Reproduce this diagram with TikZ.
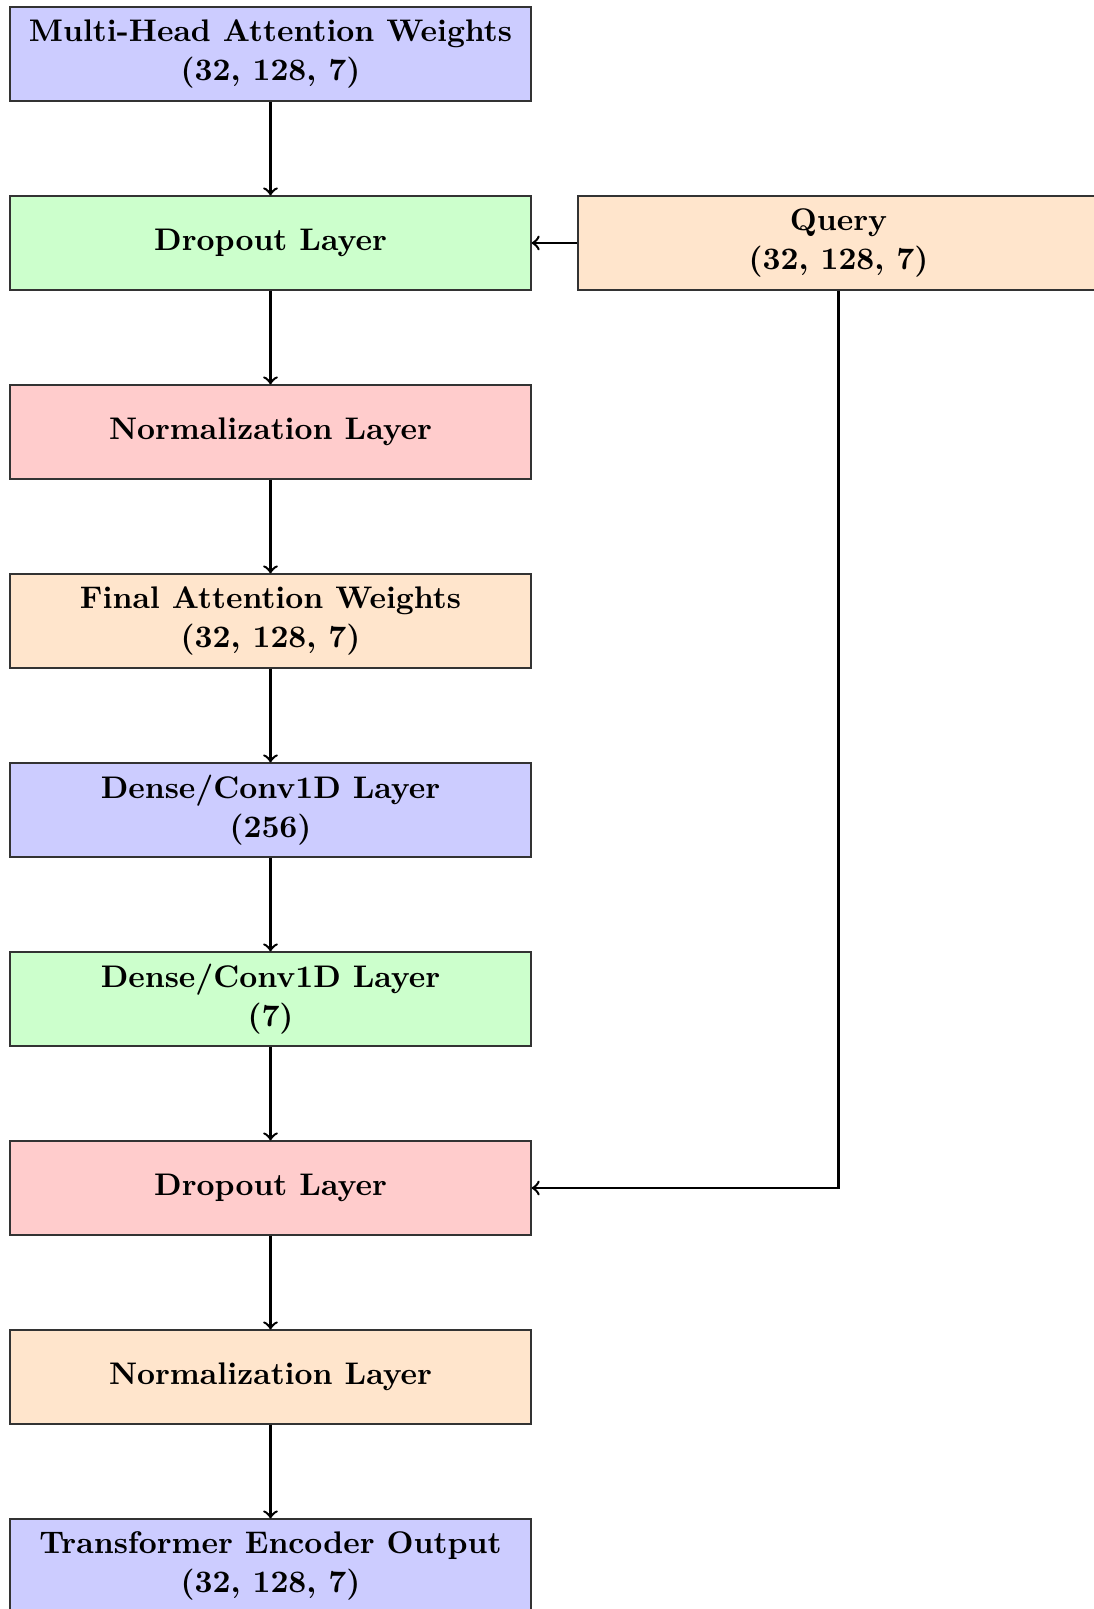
\documentclass[tikz,border=0pt]{standalone}
\begin{document}
\begin{tikzpicture}[x=0.3247pt,y=-0.3247pt,
 box/.style={draw=black!80, rectangle, minimum width=169.2pt, minimum height=30.5pt, align=center, font=\fontsize{10.15}{12.7}\selectfont\bfseries, inner sep=2pt},
 conn/.style={->, thick}]
\useasboundingbox (0,0) rectangle (1093,1609);
\node[box, fill=blue!20]   (mha)   at (270.5,54)   {Multi-Head Attention Weights\\(32, 128, 7)};
\node[box, fill=green!20]  (drop1) at (270.5,243)  {Dropout Layer};
\node[box, fill=orange!20] (query) at (838.5,243)  {Query\\(32, 128, 7)};
\node[box, fill=red!20]    (norm1) at (270.5,432)  {Normalization Layer};
\node[box, fill=orange!20] (final) at (270.5,621)  {Final Attention Weights\\(32, 128, 7)};
\node[box, fill=blue!20]   (dense1) at (270.5,810) {Dense/Conv1D Layer\\(256)};
\node[box, fill=green!20]  (dense2) at (270.5,999) {Dense/Conv1D Layer\\(7)};
\node[box, fill=red!20]    (drop2) at (270.5,1188) {Dropout Layer};
\node[box, fill=orange!20] (norm2) at (270.5,1377) {Normalization Layer};
\node[box, fill=blue!20]   (out)   at (270.5,1566) {Transformer Encoder Output\\(32, 128, 7)};
\draw[conn] (mha) -- (drop1);
\draw[conn] (drop1) -- (norm1);
\draw[conn] (norm1) -- (final);
\draw[conn] (final) -- (dense1);
\draw[conn] (dense1) -- (dense2);
\draw[conn] (dense2) -- (drop2);
\draw[conn] (drop2) -- (norm2);
\draw[conn] (norm2) -- (out);
\draw[conn] (query.west) -- (drop1.east);
\draw[conn] (query.south) |- (drop2.east);
\end{tikzpicture}
\end{document}
